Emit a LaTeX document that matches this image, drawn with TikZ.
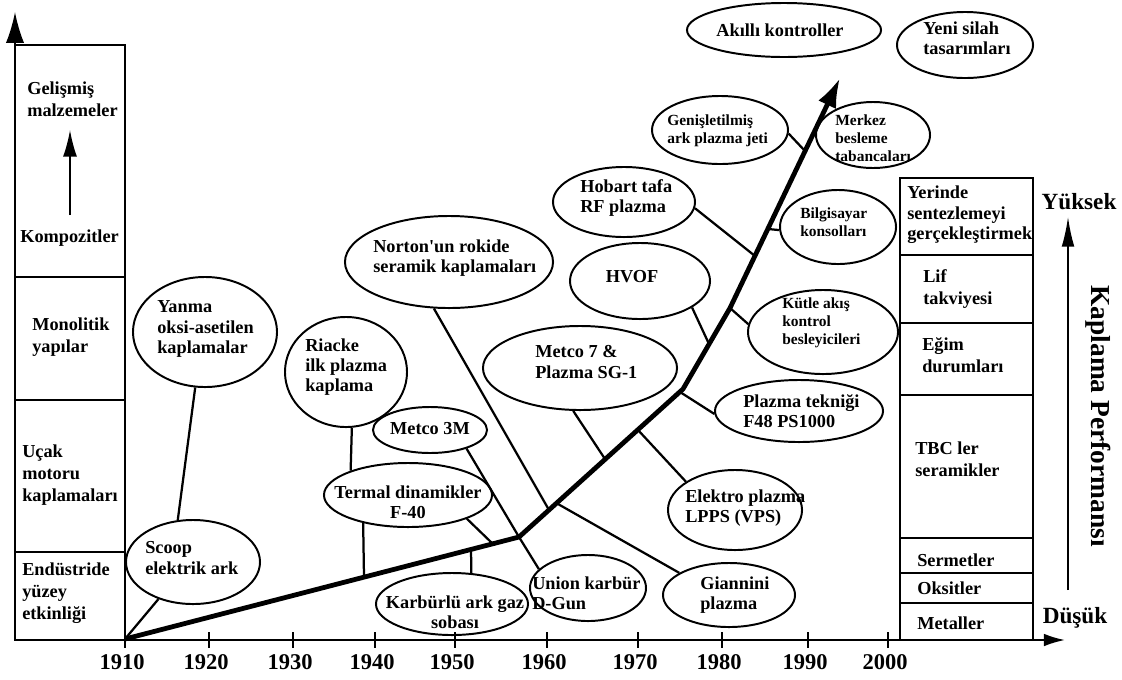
\documentclass[tikz,border=0pt]{standalone}
\usepackage{fontspec}
\setmainfont{Liberation Serif}
\usetikzlibrary{arrows.meta,shapes.geometric}

\begin{document}
\begin{tikzpicture}[x=0.025cm,y=-0.025cm,>=Latex,
  bub/.style 2 args={ellipse,draw,line width=1.4pt,inner sep=0pt,minimum width=#1*0.05cm,minimum height=#2*0.05cm},
  txt/.style={font=\bfseries\fontsize{13}{14.5}\selectfont,align=left,inner sep=0pt,anchor=west},
  coltxt/.style={txt,font=\bfseries\fontsize{13}{15.5}\selectfont},
  smalltxt/.style={txt,font=\bfseries\fontsize{11}{13}\selectfont},
  bigtxt/.style={font=\bfseries\fontsize{16.5}{19}\selectfont,inner sep=0pt},
  year/.style={font=\bfseries\fontsize{16}{18}\selectfont,inner sep=0pt},
  trunk/.style={line width=3.4pt},
  branch/.style={line width=1.6pt},
  colbox/.style={line width=1.4pt}]
  \useasboundingbox (0,0) rectangle (1122,679);

  % left column
  \draw[colbox] (15,45) rectangle (125,640);
  \foreach \y in {277,400,552} \draw[colbox] (15,\y) -- (125,\y);
  \draw[colbox,-{Latex[length=22pt,width=13pt]}] (15,640) -- (15,12);
  \draw[line width=1.2pt,-{Latex[length=19pt,width=10pt]}] (70,215) -- (70,130);
  \node[coltxt] (gelismis) at (27,99) {Gelişmiş\\malzemeler};
  \node[coltxt] (kompozit) at (20,238) {Kompozitler};
  \node[coltxt] (monolitik) at (32,337) {Monolitik\\yapılar};
  \node[coltxt] (ucak) at (22,475) {Uçak\\motoru\\kaplamaları};
  \node[coltxt] (endustri) at (22,593) {Endüstride\\yüzey\\etkinliği};

  % time axis
  \draw[colbox,-{Latex[length=15pt,width=9pt]}] (15,640) -- (1065,640);
  \foreach \yr/\x in {1910/125,1920/209,1930/293,1940/375,1950/455,1960/547,1970/638,1980/722,1990/808,2000/888}{
    \draw[colbox] (\x,632) -- (\x,648);
    \node[year] (y\yr) at (\x-3,662) {\yr};
  }

  % right column
  \draw[colbox] (900,178) rectangle (1033,640);
  \foreach \y in {255,323,395,538,573,603} \draw[colbox] (900,\y) -- (1033,\y);
  \draw[line width=1.2pt,-{Latex[length=21pt,width=9pt]}] (1068,590) -- (1068,217);
  \node[txt] (yerinde) at (907,215) {Yerinde\\sentezlemeyi\\gerçekleştirmek};
  \node[coltxt] (lif) at (923,289) {Lif\\takviyesi};
  \node[coltxt] (egim) at (922,355) {Eğim\\durumları};
  \node[coltxt] (tbc) at (915,459) {TBC ler\\seramikler};
  \node[coltxt] (sermet) at (917,560) {Sermetler};
  \node[coltxt] (oksit) at (917,588) {Oksitler};
  \node[coltxt] (metal) at (917,623) {Metaller};
  \node[bigtxt] (yuksek) at (1079,202) {Yüksek};
  \node[bigtxt] (dusuk) at (1075,618) {Düşük};
  \node[bigtxt,font=\bfseries\fontsize{19.5}{22}\selectfont,rotate=-90] (perf) at (1098,416) {Kaplama Performansı};

  % trunk
  \coordinate (o) at (125,639);
  \coordinate (j1) at (519,537);
  \coordinate (j2) at (683,389);
  \coordinate (j3) at (730,308);
  \coordinate (tip) at (840,78);
  \draw[trunk,-{Latex[length=21pt,width=14pt]}] (o) -- (j1) -- (j2) -- (j3) -- (tip);
  \coordinate (p1) at (364,577);
  \coordinate (p2) at (493,544);
  \coordinate (p3) at (471,549);
  \coordinate (p4) at (549,510);
  \coordinate (p5) at (558,504);
  \coordinate (p6) at (605,459);
  \coordinate (p7) at (638,430);
  \coordinate (p8) at (680,392);
  \coordinate (p9) at (709,344);
  \coordinate (p10) at (755,256);
  \coordinate (p11) at (768,229);
  \coordinate (p12) at (805,151);

  % bubbles
  \node[bub={67}{42}] (scoop) at (193,562) {};
  \node[bub={72}{55}] (yanma) at (205,332) {};
  \node[bub={61}{55}] (riacke) at (346,372) {};
  \node[bub={57}{23}] (metco3) at (430,430) {};
  \node[bub={84}{32}] (termal) at (408,495) {};
  \node[bub={76}{31}] (karbur) at (452,604) {};
  \node[bub={58}{33}] (union) at (588,588) {};
  \node[bub={104}{46}] (norton) at (449,262) {};
  \node[bub={66}{32}] (giannini) at (729,595) {};
  \node[bub={97}{42}] (metco7) at (580,368) {};
  \node[bub={67}{40}] (elektro) at (735,510) {};
  \node[bub={70}{38}] (hvof) at (640,281) {};
  \node[bub={71}{35}] (hobart) at (624,202) {};
  \node[bub={68}{34}] (genis) at (720,130) {};
  \node[bub={57}{33}] (merkez) at (873,135) {};
  \node[bub={58}{37}] (bilgi) at (838,227) {};
  \node[bub={75}{42}] (kutle) at (823,332) {};
  \node[bub={84}{31}] (plazmatek) at (799,411) {};
  \node[bub={97}{27}] (akilli) at (784,30) {};
  \node[bub={68}{33}] (yeni) at (965,45) {};

  \node[txt] (scooptxt) at (145,558) {Scoop\\elektrik ark};
  \node[txt] (yanmatxt) at (157,329) {Yanma\\oksi-asetilen\\kaplamalar};
  \node[txt] (riacketxt) at (305,367) {Riacke\\ilk plazma\\kaplama};
  \node[txt,anchor=center] (metco3txt) at (430,429) {Metco 3M};
  \node[txt,anchor=center,align=center] (termaltxt) at (408,502) {Termal dinamikler\\F-40};
  \node[txt,anchor=center,align=center] (karburtxt) at (455,612) {Karbürlü ark gaz\\sobası};
  \node[txt] (uniontxt) at (532,593) {Union karbür\\D-Gun};
  \node[txt] (nortontxt) at (373,258) {Norton\textquotesingle un rokide\\seramik kaplamaları};
  \node[txt] (gianninitxt) at (700,595) {Giannini\\plazma};
  \node[txt] (metco7txt) at (535,362) {Metco 7 \&\\Plazma SG-1};
  \node[txt] (elektrotxt) at (685,508) {Elektro plazma\\LPPS (VPS)};
  \node[txt,anchor=center] (hvoftxt) at (632,277) {HVOF};
  \node[txt] (hobarttxt) at (580,198) {Hobart tafa\\RF plazma};
  \node[smalltxt] (genistxt) at (667,131) {Genişletilmiş\\ark plazma jeti};
  \node[smalltxt] (merkeztxt) at (835,138) {Merkez\\besleme\\tabancaları};
  \node[smalltxt] (bilgitxt) at (800,222) {Bilgisayar\\konsolları};
  \node[smalltxt] (kutletxt) at (782,323) {Kütle akış\\kontrol\\besleyicileri};
  \node[txt] (plazmatektxt) at (743,411) {Plazma tekniği\\F48 PS1000};
  \node[txt,anchor=center] (akillitxt) at (780,30) {Akıllı kontroller};
  \node[txt] (yenitxt) at (923,38) {Yeni silah\\tasarımları};

  % branches
  \draw[branch] (scoop.-133) -- (o);
  \draw[branch] (scoop.110) -- (yanma.-100);
  \draw[branch] (riacke.-84) -- (termal.157);
  \draw[branch] (termal.-148) -- (p1);
  \draw[branch] (termal.-22) -- (p2);
  \draw[branch] (karbur.58) -- (p3);
  \draw[branch] (metco3.-27) -- (j1);
  \draw[branch] (j1) -- (union.159);
  \draw[branch] (norton.-108) -- (p4);
  \draw[branch] (p5) -- (giannini.156);
  \draw[branch] (metco7.-99) -- (p6);
  \draw[branch] (p7) -- (elektro.150);
  \draw[branch] (plazmatek.-178) -- (p8);
  \draw[branch] (hvof.-27) -- (p9);
  \draw[branch] (kutle.174) -- (j3);
  \draw[branch] (hobart.-5) -- (p10);
  \draw[branch] (bilgi.-177) -- (p11);
  \draw[branch] (genis.-3) -- (p12);
\end{tikzpicture}
\end{document}
